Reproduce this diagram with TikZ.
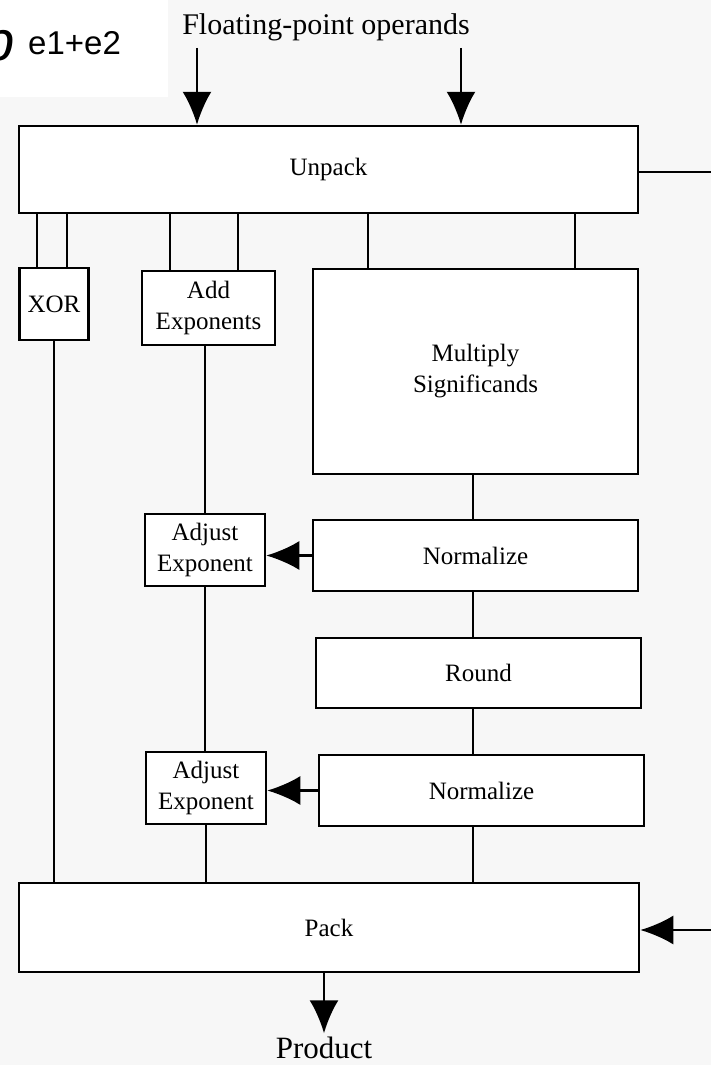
\documentclass[tikz,border=0pt]{standalone}
\usepackage{fontspec}
\setmainfont{Liberation Serif}
\setsansfont{Liberation Sans}
\usetikzlibrary{arrows.meta}
\definecolor{slidebg}{RGB}{247,247,247}
\tikzset{
  blk/.style = {draw, fill = white, line width = 2.5pt, inner sep = 0, align = center, font = \fontsize{25}{31}\selectfont},
  wire/.style = {line width = 2.5pt},
  arr/.style = {line width = 2.5pt, -{Latex[length = 33pt, width = 29pt]}}
}
\newcommand\blk[5]{\node [blk, minimum width = #3, minimum height = #4] (#1) at #2 {#5};}

\begin{document}
\begin{tikzpicture}[x = 1pt, y = -1pt]
     \useasboundingbox (0, 0) rectangle (711, 1065);
     \fill [slidebg] (0, 0) rectangle (711, 1065);
     \fill [white] (0, 0) rectangle (168, 97);

     \node [anchor = base west, inner sep = 0, font = \sffamily\itshape\fontsize{56}{60}\selectfont] (bse) at (-17, 60) {b};
     \node [anchor = base west, inner sep = 0, font = \sffamily\fontsize{33}{40}\selectfont] (pow) at (28, 55) {e1+e2};

     \node [anchor = base, font = \fontsize{30}{36}\selectfont] (ops) at (326, 35) {Floating-point operands};
     \coordinate (opA) at (197, 48);
     \coordinate (opB) at (461, 48);

     \blk{unpack}{(328.5, 169.5)}{619pt}{87pt}{Unpack}
     \blk{xor}{(54, 304)}{69pt}{72pt}{XOR}
     \blk{addexp}{(208.5, 308)}{133pt}{74pt}{Add\\Exponents}
     \blk{mult}{(475.5, 371.5)}{325pt}{205pt}{Multiply\\Significands}
     \blk{adjA}{(205, 550)}{120pt}{72pt}{Adjust\\Exponent}
     \blk{normA}{(475.5, 555.5)}{325pt}{71pt}{Normalize}
     \blk{round}{(478.5, 673)}{325pt}{70pt}{Round}
     \blk{adjB}{(206, 788)}{120pt}{72pt}{Adjust\\Exponent}
     \blk{normB}{(481.5, 790.5)}{325pt}{71pt}{Normalize}
     \blk{pack}{(329, 927.5)}{620pt}{89pt}{Pack}

     \node [anchor = base, inner sep = 1pt, font = \fontsize{31}{36}\selectfont] (prod) at (324, 1058) {Product};

     \draw [arr] (opA) -- (opA |- unpack.north);
     \draw [arr] (opB) -- (opB |- unpack.north);

     \coordinate (fromR) at (711, 172);
     \coordinate (toR) at (711, 930);
     \draw [wire] (unpack.east |- fromR) -- (fromR);
     \draw [arr] (toR) -- (toR -| pack.east);

     \foreach \dx in {-17, 13}
          \draw [wire] ([xshift = \dx pt]xor.north |- unpack.south) -- ([xshift = \dx pt]xor.north);
     \foreach \dx in {-38.5, 29.5}
          \draw [wire] ([xshift = \dx pt]addexp.north |- unpack.south) -- ([xshift = \dx pt]addexp.north);
     \foreach \dx in {-107.5, 99.5}
          \draw [wire] ([xshift = \dx pt]mult.north |- unpack.south) -- ([xshift = \dx pt]mult.north);

     \draw [wire] (xor.south) -- (xor.south |- pack.north);
     \draw [wire] (adjA.north |- addexp.south) -- (adjA.north);
     \draw [wire] (adjA.south) -- (adjA.south |- adjB.north);
     \draw [wire] (adjB.south) -- (adjB.south |- pack.north);

     \coordinate (col) at (473, 0);
     \draw [wire] (mult.south -| col) -- (normA.north -| col);
     \draw [wire] (normA.south -| col) -- (round.north -| col);
     \draw [wire] (round.south -| col) -- (normB.north -| col);
     \draw [wire] (normB.south -| col) -- (pack.north -| col);

     \draw [arr] (normA.west) -- (normA.west -| adjA.east);
     \draw [arr] (normB.west) -- (normB.west -| adjB.east);
     \draw [arr, shorten > = 2pt] (prod.north |- pack.south) -- (prod.north);
\end{tikzpicture}
\end{document}
